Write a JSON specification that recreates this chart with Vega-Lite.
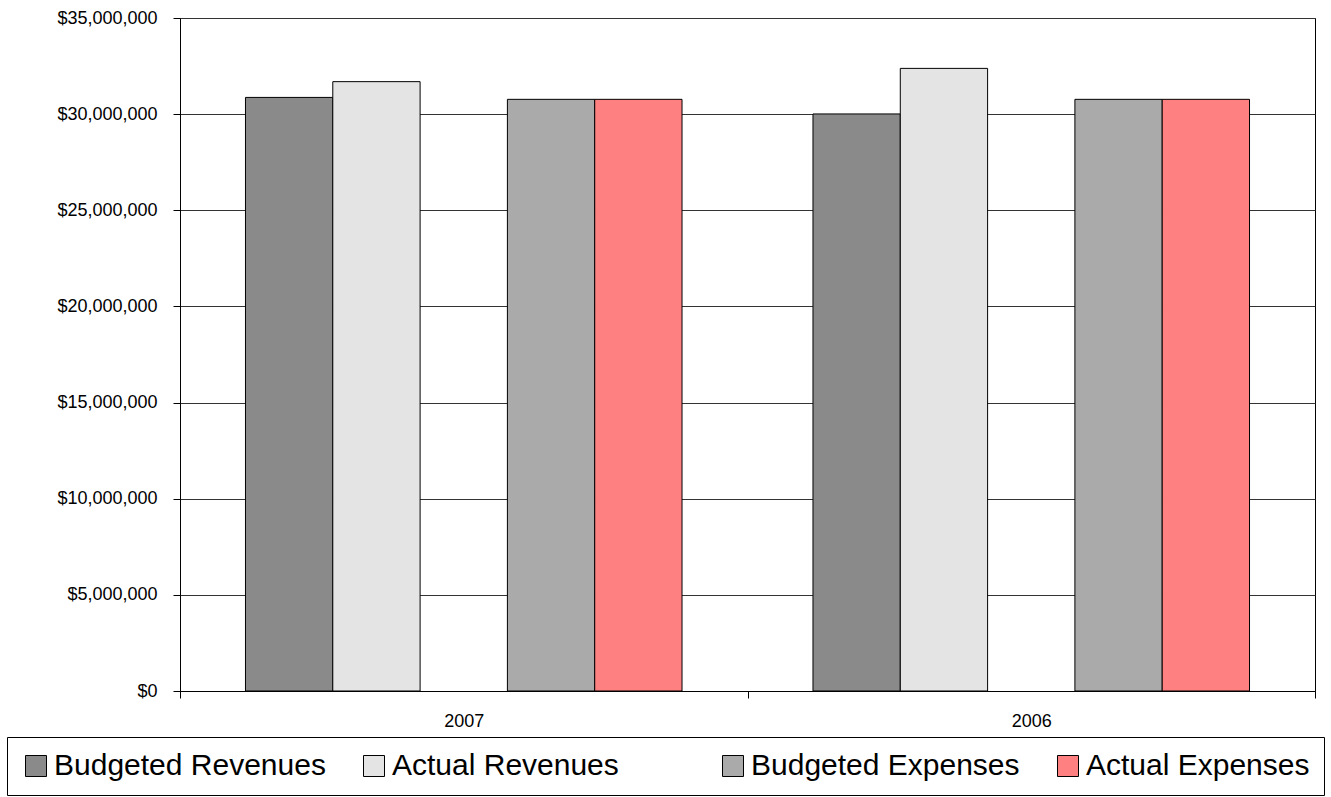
{
  "$schema": "https://vega.github.io/schema/vega-lite/v6.json",
  "width": 1135,
  "height": 673,
  "autosize": {"type": "none"},
  "padding": {"left": 180, "top": 18, "right": 16, "bottom": 106},
  "background": "white",
  "data": {
    "values": [
      {"year": "2007", "series": "Budgeted Revenues", "value": 30870000},
      {"year": "2007", "series": "Actual Revenues", "value": 31690000},
      {"year": "2007", "series": "Budgeted Expenses", "value": 30770000},
      {"year": "2007", "series": "Actual Expenses", "value": 30770000},
      {"year": "2006", "series": "Budgeted Revenues", "value": 30010000},
      {"year": "2006", "series": "Actual Revenues", "value": 32380000},
      {"year": "2006", "series": "Budgeted Expenses", "value": 30770000},
      {"year": "2006", "series": "Actual Expenses", "value": 30770000}
    ]
  },
  "mark": {"type": "bar", "strokeWidth": 1},
  "encoding": {
    "x": {
      "field": "year",
      "type": "nominal",
      "sort": ["2007", "2006"],
      "scale": {"paddingInner": 0, "paddingOuter": 0},
      "axis": {
        "title": null,
        "labelAngle": 0,
        "tickBand": "extent",
        "tickSize": 7,
        "tickColor": "black",
        "domainColor": "black",
        "labelPadding": 14,
        "labelFontSize": 18,
        "labelFont": "Liberation Sans",
        "labelColor": "black",
        "grid": false
      }
    },
    "xOffset": {
      "field": "series",
      "type": "nominal",
      "scale": {
        "domain": ["Budgeted Revenues", "Actual Revenues", "", "Budgeted Expenses", "Actual Expenses"],
        "paddingInner": 0,
        "paddingOuter": 0.75
      }
    },
    "y": {
      "field": "value",
      "type": "quantitative",
      "scale": {"domain": [0, 35000000], "nice": false},
      "axis": {
        "title": null,
        "values": [0, 5000000, 10000000, 15000000, 20000000, 25000000, 30000000, 35000000],
        "format": "$,d",
        "tickSize": 7,
        "tickColor": "black",
        "domainColor": "black",
        "labelPadding": 16,
        "labelFontSize": 18,
        "labelFont": "Liberation Sans",
        "labelColor": "black",
        "grid": true,
        "gridColor": "#333333",
        "gridOpacity": 1
      }
    },
    "fill": {
      "field": "series",
      "type": "nominal",
      "scale": {
        "domain": ["Budgeted Revenues", "Actual Revenues", "", "Budgeted Expenses", "Actual Expenses"],
        "range": ["#8a8a8a", "#e4e4e4", "transparent", "#aaaaaa", "#ff8080"]
      },
      "legend": {"title": null}
    },
    "stroke": {
      "field": "series",
      "type": "nominal",
      "scale": {
        "domain": ["Budgeted Revenues", "Actual Revenues", "", "Budgeted Expenses", "Actual Expenses"],
        "range": ["black", "black", "transparent", "black", "black"]
      },
      "legend": {"title": null}
    }
  },
  "config": {
    "view": {"stroke": "black", "strokeWidth": 1},
    "legend": {
      "orient": "none",
      "legendX": -173,
      "legendY": 719,
      "direction": "horizontal",
      "gridAlign": "each",
      "columnPadding": 33,
      "padding": 14,
      "strokeColor": "black",
      "fillColor": "white",
      "labelFontSize": 30,
      "labelFont": "Liberation Sans",
      "labelColor": "black",
      "labelLimit": 0,
      "labelOffset": 3,
      "symbolType": "square",
      "symbolSize": 441,
      "symbolStrokeWidth": 1,
      "symbolOpacity": 1
    }
  }
}
